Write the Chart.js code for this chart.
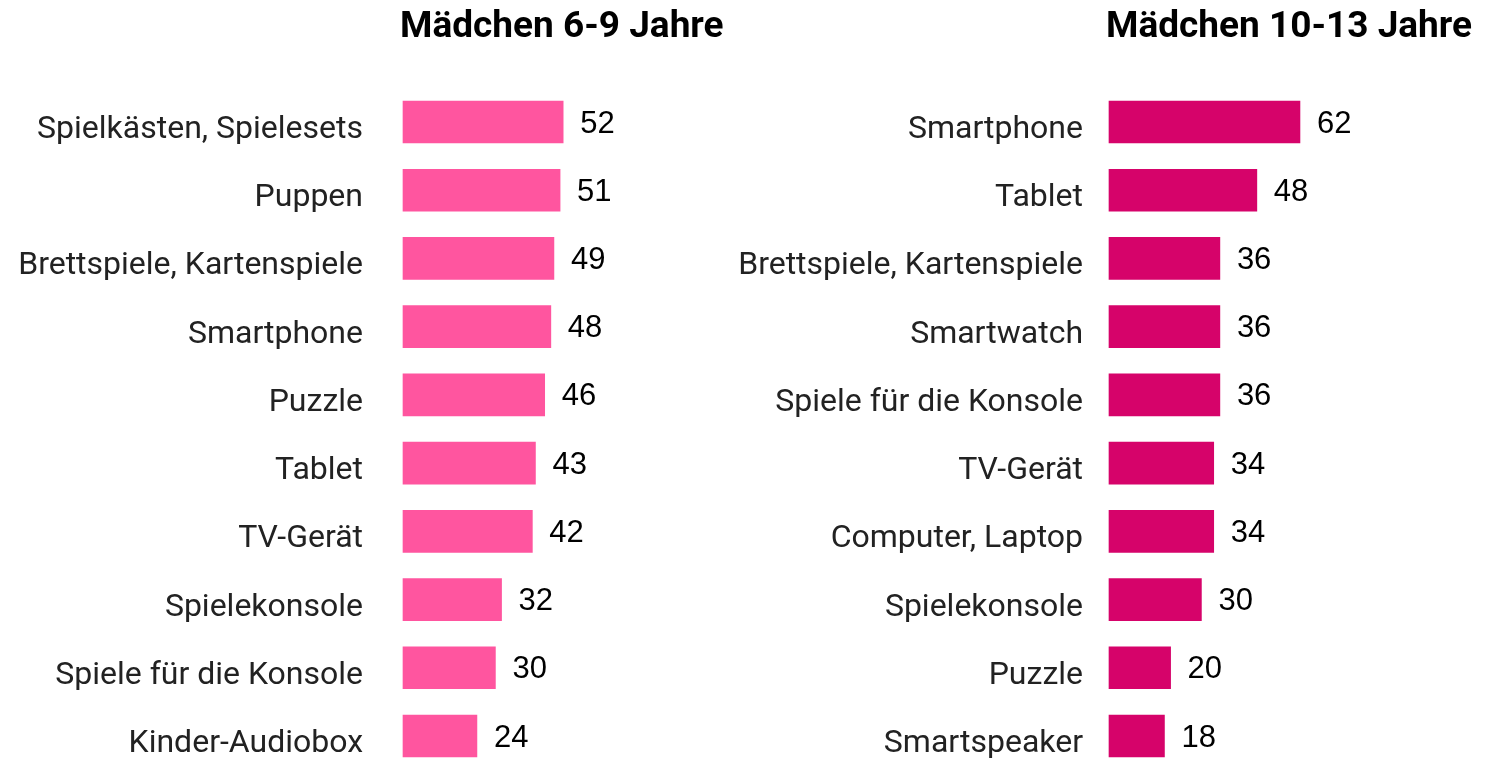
<!DOCTYPE html>
<html lang="de">
<head>
    <meta charset="UTF-8">
    <title>Mädchen 6-9 / 10-13 Jahre</title>
    <script src="https://cdn.jsdelivr.net/npm/chart.js"></script>
    <style>
        body {
            margin: 0;
            background: #ffffff;
            width: 1485px;
            height: 759px;
            overflow: hidden;
            position: relative;
        }
        canvas {
            position: absolute;
            top: 0;
        }
        #chartLeft { left: 0; }
        #chartRight { left: 740px; }
    </style>
</head>
<body>
    <canvas id="chartLeft" width="740" height="759"></canvas>
    <canvas id="chartRight" width="745" height="759"></canvas>

    <script>
        // Data (percent)
        const titleLeft = 'Mädchen 6-9 Jahre';
        const labelsLeft = ['Spielkästen, Spielesets', 'Puppen', 'Brettspiele, Kartenspiele', 'Smartphone',
            'Puzzle', 'Tablet', 'TV-Gerät', 'Spielekonsole', 'Spiele für die Konsole', 'Kinder-Audiobox'];
        const valuesLeft = [52, 51, 49, 48, 46, 43, 42, 32, 30, 24];

        const titleRight = 'Mädchen 10-13 Jahre';
        const labelsRight = ['Smartphone', 'Tablet', 'Brettspiele, Kartenspiele', 'Smartwatch',
            'Spiele für die Konsole', 'TV-Gerät', 'Computer, Laptop', 'Spielekonsole', 'Puzzle', 'Smartspeaker'];
        const valuesRight = [62, 48, 36, 36, 36, 34, 34, 30, 20, 18];

        // title drawn above the bars, left-aligned with the bar start
        const titlePlugin = {
            id: 'sideTitle',
            afterDraw(chart, args, opts) {
                const ctx = chart.ctx;
                ctx.save();
                ctx.font = 'bold 37px Roboto';
                ctx.fillStyle = '#000';
                ctx.textAlign = 'left';
                ctx.textBaseline = 'middle';
                ctx.fillText(opts.text, chart.chartArea.left - 3, 28);
                ctx.restore();
            }
        };

        // value labels right of each bar
        const valuePlugin = {
            id: 'barValues',
            afterDatasetsDraw(chart) {
                const ctx = chart.ctx;
                const meta = chart.getDatasetMeta(0);
                ctx.save();
                ctx.font = '31px "Liberation Sans", Arial, sans-serif';
                ctx.fillStyle = '#000';
                ctx.textAlign = 'left';
                ctx.textBaseline = 'middle';
                meta.data.forEach((bar, i) => {
                    ctx.fillText(chart.data.datasets[0].data[i], bar.x + 17, bar.y + 2);
                });
                ctx.restore();
            }
        };

        function makeChart(id, labels, values, color, title, axisWidth, tickPad, padRight) {
            return new Chart(document.getElementById(id), {
                type: 'bar',
                data: {
                    labels: labels,
                    datasets: [{
                        data: values,
                        backgroundColor: color,
                        barThickness: 42,
                        clip: false
                    }]
                },
                options: {
                    indexAxis: 'y',
                    responsive: false,
                    animation: false,
                    devicePixelRatio: 1,
                    layout: { padding: { top: 122, bottom: 23, left: 0, right: padRight } },
                    plugins: {
                        legend: { display: false },
                        tooltip: { enabled: false },
                        sideTitle: { text: title }
                    },
                    scales: {
                        x: {
                            display: false,
                            min: 0,
                            max: 100
                        },
                        y: {
                            offset: false,
                            border: { display: false },
                            grid: { display: false, drawTicks: false },
                            afterFit: (s) => {
                                s.width = axisWidth;
                                s.paddingTop = 0;
                                s.paddingBottom = 0;
                            },
                            ticks: {
                                color: '#222',
                                padding: tickPad,
                                labelOffset: 8,
                                font: { family: 'Roboto', size: 32 }
                            }
                        }
                    }
                },
                plugins: [titlePlugin, valuePlugin]
            });
        }

        makeChart('chartLeft', labelsLeft, valuesLeft, '#ff559f', titleLeft, 403, 40, 29);
        makeChart('chartRight', labelsRight, valuesRight, '#d6036a', titleRight, 369, 26, 68);
    </script>
</body>
</html>
